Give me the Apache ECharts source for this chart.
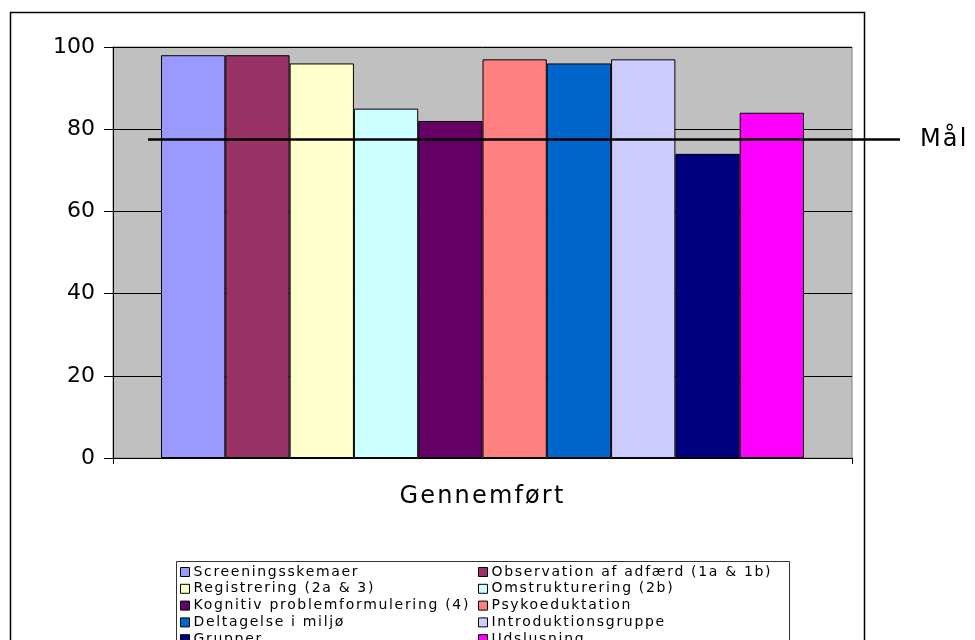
<!DOCTYPE html>
<html>
<head>
<meta charset="utf-8">
<title>Gennemført</title>
<script src="https://cdn.jsdelivr.net/npm/echarts@6/dist/echarts.min.js"></script>
<style>
  html, body { margin: 0; padding: 0; background: #fff; }
  #chart { width: 975px; height: 640px; }
</style>
</head>
<body>
<div id="chart"></div>
<script>
// Activities, their completion rate (%) and bar colours
const categories = ['Gennemført'];
const activityNames = [
  'Screeningsskemaer',
  'Observation af adfærd (1a & 1b)',
  'Registrering (2a & 3)',
  'Omstrukturering (2b)',
  'Kognitiv problemformulering (4)',
  'Psykoeduktation',
  'Deltagelse i miljø',
  'Introduktionsgruppe',
  'Grupper',
  'Udslusning'
];
const completionValues = [98, 98, 96, 85, 82, 97, 96, 97, 74, 84];
const barColors = ['#9999FF', '#993366', '#FFFFCC', '#CCFFFF', '#660066',
                   '#FF8080', '#0066CC', '#CCCCFF', '#000080', '#FF00FF'];
// Target level
const goalName = 'Mål';
const goalValue = 77.5;
const yTicks = { min: 0, max: 100, interval: 20 };

// Wide tracking for word labels (numbers keep normal spacing):
// small legend text gets more, large titles a little less
function trackingFor(size) { return size < 16 ? 0.12 : 0.09; }
(function () {
  const proto = CanvasRenderingContext2D.prototype;
  if (!('letterSpacing' in proto)) return;
  const baseFill = proto.fillText;
  proto.fillText = function (text, x, y, maxWidth) {
    const args = maxWidth === undefined ? [text, x, y] : [text, x, y, maxWidth];
    if (!/[^\d\s.,\-]/.test(String(text))) return baseFill.apply(this, args);
    const m = /(\d+(?:\.\d+)?)px/.exec(this.font);
    const size = m ? parseFloat(m[1]) : 12;
    const prev = this.letterSpacing;
    this.letterSpacing = (size * trackingFor(size)).toFixed(2) + 'px';
    baseFill.apply(this, args);
    this.letterSpacing = prev;
  };
})();

const FONT = 'DejaVu Sans';
const chart = echarts.init(document.getElementById('chart'), null, { renderer: 'canvas' });

const barSeries = activityNames.map((name, i) => ({
  name: name,
  type: 'bar',
  xAxisIndex: 0,
  yAxisIndex: 0,
  barGap: '0%',
  barCategoryGap: '13%',
  data: [completionValues[i]],
  itemStyle: { color: barColors[i], borderColor: '#000', borderWidth: 1 },
  emphasis: { disabled: true },
  animation: false
}));

// Legend: two columns, one entry per row, series order runs left-right then down
const LEGEND_TOP = 565;
const LEGEND_ROW = 16.8;
const LEGEND_COLS = [180, 478];
const legends = activityNames.map((name, i) => ({
  data: [name],
  left: LEGEND_COLS[i % 2],
  top: LEGEND_TOP + Math.floor(i / 2) * LEGEND_ROW,
  orient: 'horizontal',
  icon: 'rect',
  itemWidth: 9,
  itemHeight: 9,
  itemGap: 0,
  itemStyle: { borderColor: '#000', borderWidth: 1 },
  textStyle: { fontFamily: FONT, fontSize: 14, color: '#000', lineHeight: 14, padding: [0, 0, 0, -1] },
  selectedMode: false,
  padding: 0
}));

chart.setOption({
  backgroundColor: '#fff',
  animation: false,
  grid: [
    { left: 113, right: 123, top: 47, bottom: 182, show: true,
      backgroundColor: '#C0C0C0', borderColor: '#808080', borderWidth: 1 },
    { left: 148, right: 75, top: 47, bottom: 182 }
  ],
  xAxis: [
    {
      gridIndex: 0,
      type: 'category',
      data: categories,
      axisLine: { lineStyle: { color: '#000', width: 1 } },
      axisTick: { show: true, length: 6, lineStyle: { color: '#000' } },
      axisLabel: { fontFamily: FONT, fontSize: 24, color: '#000', margin: 27 }
    },
    { gridIndex: 1, type: 'value', min: 0, max: 1, show: false }
  ],
  yAxis: [
    {
      gridIndex: 0,
      type: 'value',
      min: yTicks.min,
      max: yTicks.max,
      interval: yTicks.interval,
      axisLine: { show: true, lineStyle: { color: '#000', width: 1 } },
      axisTick: { show: true, length: 9, lineStyle: { color: '#000' } },
      axisLabel: { fontFamily: FONT, fontSize: 22, color: '#000', margin: 18 },
      splitLine: { show: true, lineStyle: { color: '#000', width: 1 } }
    },
    { gridIndex: 1, type: 'value', min: yTicks.min, max: yTicks.max, show: false }
  ],
  legend: legends,
  series: barSeries.concat([{
    name: goalName,
    type: 'line',
    xAxisIndex: 1,
    yAxisIndex: 1,
    data: [[0, goalValue], [1, goalValue]],
    symbol: 'none',
    clip: false,
    z: 10,
    lineStyle: { color: '#000', width: 2.5 },
    endLabel: { show: true, formatter: goalName, fontFamily: FONT, fontSize: 24, color: '#000', distance: 20 },
    emphasis: { disabled: true },
    animation: false
  }]),
  graphic: [
    { type: 'rect', silent: true, z: -1,
      shape: { x: 10.5, y: 12.5, width: 854, height: 700 },
      style: { fill: null, stroke: '#000', lineWidth: 1.5 } },
    { type: 'rect', silent: true,
      shape: { x: 176.5, y: 561.5, width: 613, height: 100 },
      style: { fill: null, stroke: '#333', lineWidth: 1 } }
  ]
});
</script>
</body>
</html>
